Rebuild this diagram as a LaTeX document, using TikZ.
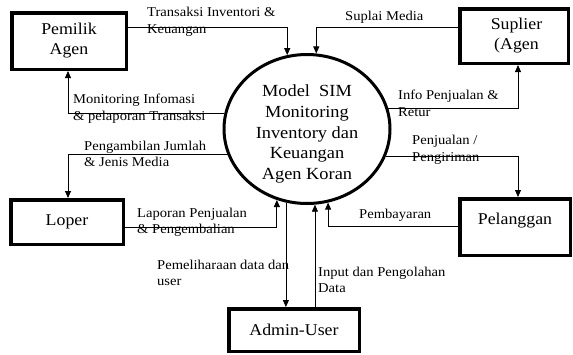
\documentclass[tikz,border=0pt]{standalone}
\usepackage{fontspec}
\setmainfont[FakeStretch=1.08]{Liberation Serif}
\usetikzlibrary{arrows.meta,shapes.geometric}
\begin{document}
\begin{tikzpicture}[x=1pt,y=-1pt,
  box/.style={draw, line width=3.5pt, rectangle, inner sep=0pt, align=center, font=\fontsize{16.5}{20}\selectfont},
  conn/.style={line width=0.8pt},
  arr/.style={conn, -{Triangle[length=7pt,width=6pt]}},
  lbl/.style={inner sep=0pt, anchor=west, align=left, font=\fontsize{13.5}{16.5}\selectfont},
]
\useasboundingbox (0,0) rectangle (573,354);
% entities
\node[box, minimum width=114.5pt, minimum height=56.5pt] (pemilik) at (69,41) {Pemilik\\Agen};
\node[box, minimum width=108.5pt, minimum height=54.5pt] (suplier) at (514,36) {\hspace*{5pt}Suplier\\\hspace*{5pt}(Agen};
\node[box, minimum width=112.5pt, minimum height=44.5pt] (loper) at (67,222) {\raisebox{2pt}{Loper}};
\node[box, minimum width=110.5pt, minimum height=56.5pt] (pelanggan) at (515,227) {Pelanggan\\[-4pt]~};
\node[box, minimum width=130.5pt, minimum height=42.5pt] (admin) at (294,330) {\raisebox{-5pt}{Admin-User}};
% process
\node[draw, ellipse, line width=3pt, inner sep=0pt, minimum width=166pt, minimum height=149pt] (circ) at (307,129) {};
\node[inner sep=0pt, font=\fontsize{17}{20.75}\selectfont] (circtext) at (307,134)
  {\begin{tabular}{@{}c@{}}Model\ \ SIM\\Monitoring\\Inventory dan\\Keuangan\\Agen Koran\end{tabular}};
% connectors
\draw[arr] ([yshift=14pt]pemilik.east) -| (circ.105.16);
\draw[arr] ([yshift=9pt]suplier.west) -| (circ.83.21);
\draw[arr] (circ.169.74) -| ([xshift=-1pt]pemilik.south);
\draw[arr] (circ.198.13) -| ([xshift=1pt]loper.north);
\draw[arr] ([yshift=-5pt]loper.east) -| (circ.247.11);
\draw[arr] (circ.14.5) -| ([xshift=4pt]suplier.south);
\draw[arr] (circ.341.87) -| ([xshift=3pt]pelanggan.north);
\draw[arr] ([yshift=1pt]pelanggan.west) -| (circ.286.69);
\draw[arr] (circ.254.84) -- (circ.254.84 |- admin.north);
\draw[arr] (admin.north -| circ.276.79) -- (circ.276.79);
% labels
\node[lbl] (l1) at (147,22) {Transaksi Inventori \&\\Keuangan};
\node[lbl] (l2) at (345,17) {Suplai Media};
\node[lbl] (l3) at (73,108.5) {Monitoring Infomasi\\\& pelaporan Transaksi};
\node[lbl] (l4) at (84,154) {Pengambilan Jumlah\\\& Jenis Media};
\node[lbl] (l5) at (398,103.5) {Info Penjualan \&\\Retur};
\node[lbl] (l6) at (412,150) {Penjualan /\\Pengiriman};
\node[lbl] (l7) at (137,222.5) {Laporan Penjualan\\\& Pengembalian};
\node[lbl] (l8) at (359,215) {Pembayaran};
\node[lbl] (l9) at (157,273) {Pemeliharaan data dan\\user};
\node[lbl] (l10) at (318,280) {Input dan Pengolahan\\Data};
\end{tikzpicture}
\end{document}
